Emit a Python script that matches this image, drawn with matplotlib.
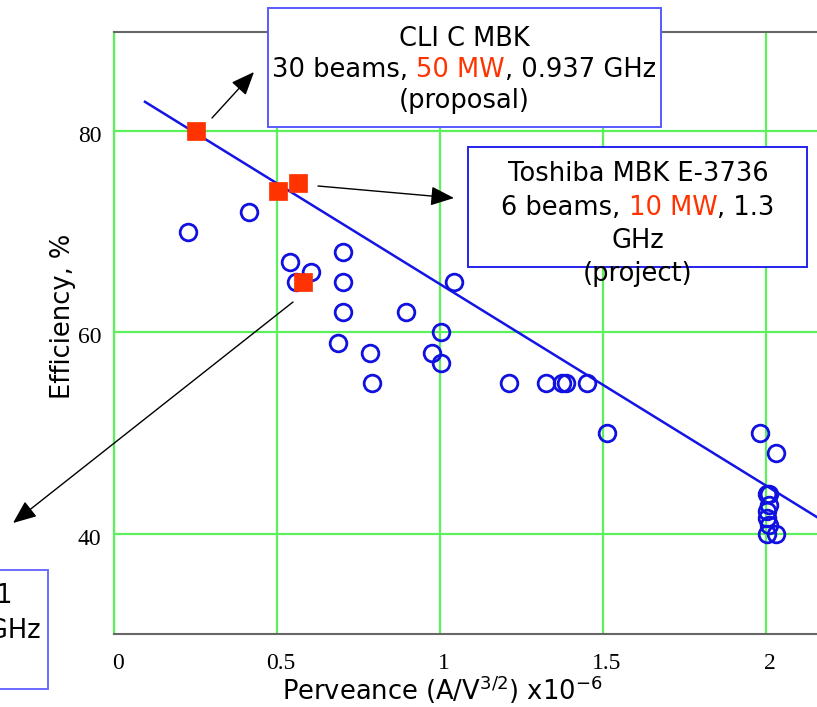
import matplotlib
matplotlib.use('Agg')
import matplotlib.pyplot as plt
from matplotlib.patches import Rectangle, FancyArrowPatch
import matplotlib.transforms as mtransforms

# ---------------- data ----------------
perveance_other = [0.226, 0.414, 0.541, 0.557, 0.604, 0.688, 0.701, 0.701, 0.701,
                   0.785, 0.792, 0.897, 0.975, 1.002, 1.002, 1.044, 1.212, 1.324,
                   1.373, 1.385, 1.450, 1.513, 1.982, 2.031, 2.002, 2.010, 2.010,
                   2.002, 2.004, 2.010, 2.002, 2.030]
efficiency_other = [70, 72, 67, 65, 66, 59, 68, 65, 62,
                    58, 55, 62, 58, 60, 57, 65, 55, 55,
                    55, 55, 55, 50, 50, 48, 44, 44, 42.9,
                    42.3, 41.6, 40.9, 40, 40]

perveance_mbk = [0.252, 0.503, 0.564, 0.579]
efficiency_mbk = [80, 74, 74.8, 65]

fit_x = [0.095, 2.20]
fit_y = [82.9, 40.8]

xticks = [0, 0.5, 1, 1.5, 2]
xticklabels = ['0', '0.5', '1', '1.5', '2']
yticks = [40, 60, 80]
yticklabels = ['40', '60', '80']

clic_lines = [[('CLI C MBK', 'black')],
              [('30 beams, ', 'black'), ('50 MW', '#ff3300'), (', 0.937 GHz', 'black')],
              [('(proposal)', 'black')]]
toshiba_lines = [[('Toshiba MBK E-3736', 'black')],
                 [('6 beams, ', 'black'), ('10 MW', '#ff3300'), (', 1.3', 'black')],
                 [('GHz', 'black')],
                 [('(project)', 'black')]]
thales_lines = ['Thales MBK TH1801', '7 beams, 10 MW, 1.3 GHz']

xlabel = 'Perveance (A/V$^{3/2}$) x10$^{-6}$'
ylabel = 'Efficiency, %'

# ---------------- figure ----------------
W, H = 817, 707
SANS = 'DejaVu Sans'
FS = 18.5
plt.rcParams['mathtext.fontset'] = 'dejavusans'

fig = plt.figure(figsize=(W / 100, H / 100), dpi=100)
fig.patch.set_facecolor('white')


def P(x, y):
    return (x / W, 1 - y / H)


ax = fig.add_axes([114 / W, 1 - 634 / H, (817 - 114) / W, (634 - 32) / H])
ax.set_xlim(0, 703 / 326)
ax.set_ylim(30.07, 89.83)

GREEN = '#5cf05c'
ax.set_xticks(xticks)
ax.set_xticklabels(xticklabels)
ax.set_yticks(yticks)
ax.set_yticklabels(yticklabels)
ax.grid(True, color=GREEN, lw=1.6)
ax.set_axisbelow(True)
ax.tick_params(length=0)
ax.tick_params(axis='x', pad=14)
ax.tick_params(axis='y', pad=9)
for lab in ax.get_xticklabels() + ax.get_yticklabels():
    lab.set_family('Liberation Serif')
    lab.set_fontsize(17)
offset = mtransforms.ScaledTranslation(4 / 100, 0, fig.dpi_scale_trans)
for lab in ax.get_xticklabels():
    lab.set_transform(lab.get_transform() + offset)
offy = mtransforms.ScaledTranslation(0, -3 / 100, fig.dpi_scale_trans)
for lab in ax.get_yticklabels():
    lab.set_transform(lab.get_transform() + offy)

ax.spines['right'].set_visible(False)
ax.spines['left'].set_color(GREEN)
ax.spines['left'].set_linewidth(1.6)
for s in ('top', 'bottom'):
    ax.spines[s].set_color('#666666')
    ax.spines[s].set_linewidth(1.5)

ax.plot(fit_x, fit_y, color='#1414e6', lw=1.8, zorder=3, clip_on=True)
ax.plot(perveance_other, efficiency_other, linestyle='none', marker='o',
        markersize=12, markerfacecolor='none', markeredgecolor='#1010e0',
        markeredgewidth=2.0, zorder=4)
ax.plot(perveance_mbk, efficiency_mbk, linestyle='none', marker='s',
        markersize=13, markerfacecolor='#ff3300', markeredgecolor='#ff3300',
        markeredgewidth=0.5, zorder=5)

# axis labels
fig.text(*P(63, 316), ylabel, rotation=90, ha='center', va='center',
         family=SANS, fontsize=FS)
fig.text(*P(442, 690), xlabel, ha='center', va='center',
         family=SANS, fontsize=FS)

# ---------------- boxes and annotations ----------------
renderer = fig.canvas.get_renderer()


def twidth(s, size):
    t = fig.text(0, 0, s + '|', family=SANS, fontsize=size)
    w1 = t.get_window_extent(renderer).width
    t.set_text('|')
    w2 = t.get_window_extent(renderer).width
    t.remove()
    return w1 - w2


def colored_line(parts, cx, cy, size=FS):
    widths = [twidth(s, size) for s, _ in parts]
    x = cx - sum(widths) / 2
    for (s, c), w in zip(parts, widths):
        fig.text(*P(x, cy), s, color=c, family=SANS, fontsize=size,
                 ha='left', va='center', zorder=6)
        x += w


def box(x0, y0, x1, y1, ec, lw=1.4):
    r = Rectangle(P(x0, y1), (x1 - x0) / W, (y1 - y0) / H,
                  transform=fig.transFigure, facecolor='white', edgecolor=ec,
                  lw=lw, zorder=2, clip_on=False)
    fig.patches.append(r)


def arrow(a, b):
    ar = FancyArrowPatch(P(*a), P(*b), transform=fig.transFigure,
                         arrowstyle='-|>,head_length=0.8,head_width=0.33',
                         mutation_scale=18, color='black', lw=1.0,
                         shrinkA=0, shrinkB=0, zorder=7)
    fig.patches.append(ar)


# CLIC box
box(268, 8, 661, 127, '#5a5aff')
for parts, cy in zip(clic_lines, [39, 70, 101]):
    colored_line(parts, 464, cy)

# Toshiba box
box(468, 147, 807, 267, '#2222ee')
for parts, cy in zip(toshiba_lines, [174, 208, 241, 274]):
    colored_line(parts, 638, cy)

# Thales box (cut at the left edge, as in the reference)
box(-400, 570, 48, 689, '#6a6aff')
fig.text(*P(13, 596), thales_lines[0], ha='right', va='center',
         family=SANS, fontsize=FS, zorder=6)
fig.text(*P(41, 631), thales_lines[1], ha='right', va='center',
         family=SANS, fontsize=FS, zorder=6)

arrow((212, 118), (254, 72))
arrow((318, 186), (454, 198))
arrow((293, 302), (13, 523))

fig.savefig('out.png', dpi=100)
